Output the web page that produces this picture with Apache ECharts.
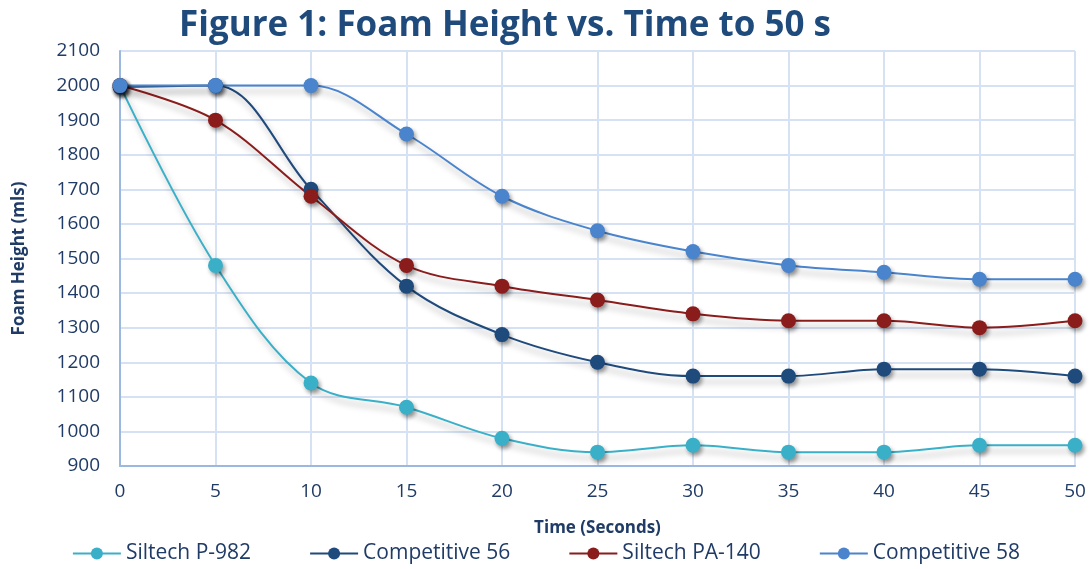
<!DOCTYPE html>
<html><head><meta charset="utf-8">
<script src="https://cdn.jsdelivr.net/npm/echarts@6/dist/echarts.min.js"></script>
<style>html,body{margin:0;padding:0;background:#fff}#c{width:1092px;height:569px}</style>
</head><body><div id="c"></div>
<script>
const times = [0,5,10,15,20,25,30,35,40,45,50];
const siltechP982 = [2000,1480,1140,1070,980,940,960,940,940,960,960];
const competitive56 = [1995,2000,1700,1420,1280,1200,1160,1160,1180,1180,1160];
const siltechPA140 = [2000,1900,1680,1480,1420,1380,1340,1320,1320,1300,1320];
const competitive58 = [2000,2000,2000,1860,1680,1580,1520,1480,1460,1440,1440];
const names = ['Siltech P-982','Competitive 56','Siltech PA-140','Competitive 58'];
const colors = ['#3ab0c8','#1f4a7c','#8a1c1c','#4a84cc'];
const seriesData = [siltechP982, competitive56, siltechPA140, competitive58];
const txt = '#1f3b66';
const font = "'Open Sans',sans-serif";
const chart = echarts.init(document.getElementById('c'));
chart.setOption({
  animation:false,
  title:{text:'Figure 1: Foam Height vs. Time to 50 s',left:500,top:4,textAlign:'center',
    textStyle:{fontFamily:"'Open Sans',sans-serif",fontWeight:'bold',fontSize:35,color:'#1f4a7c'}},
  legend:{bottom:0,left:'center',itemWidth:48,itemHeight:15,itemGap:58,
    textStyle:{fontFamily:font,fontSize:21,color:txt},data:names},
  grid:{left:120,right:17,top:51,bottom:103},
  xAxis:{type:'value',min:0,max:50,interval:5,
    name:'Time (Seconds)',nameLocation:'middle',nameGap:54,
    nameTextStyle:{fontFamily:"'Open Sans',sans-serif",fontWeight:'bold',fontSize:17,color:txt},
    axisLine:{lineStyle:{color:'#9ab8e0',width:2}},axisTick:{show:false},
    axisLabel:{fontFamily:font,fontSize:19,color:txt,margin:16},
    splitLine:{show:true,lineStyle:{color:'#d6e2f3',width:2}}},
  yAxis:{type:'value',min:900,max:2100,interval:100,
    name:'Foam Height (mls)',nameLocation:'middle',nameGap:92,
    nameTextStyle:{fontFamily:"'Open Sans',sans-serif",fontWeight:'bold',fontSize:17,color:txt},
    axisLine:{show:true,lineStyle:{color:'#9ab8e0',width:2}},axisTick:{show:false},
    axisLabel:{fontFamily:font,fontSize:19,color:txt,margin:20,formatter:v=>String(v)},
    splitLine:{show:true,lineStyle:{color:'#d6e2f3',width:2}}},
  series: names.map((n,i)=>({
    name:n,type:'line',smooth:0.35,symbol:'circle',symbolSize:15,
    data: times.map((t,j)=>[t,seriesData[i][j]]),
    itemStyle:{color:colors[i],shadowColor:'rgba(0,0,0,0.4)',shadowBlur:4,shadowOffsetX:2,shadowOffsetY:3},
    lineStyle:{color:colors[i],width:2,shadowColor:'rgba(0,0,0,0.3)',shadowBlur:6,shadowOffsetX:3,shadowOffsetY:6}
  }))
});
</script></body></html>
